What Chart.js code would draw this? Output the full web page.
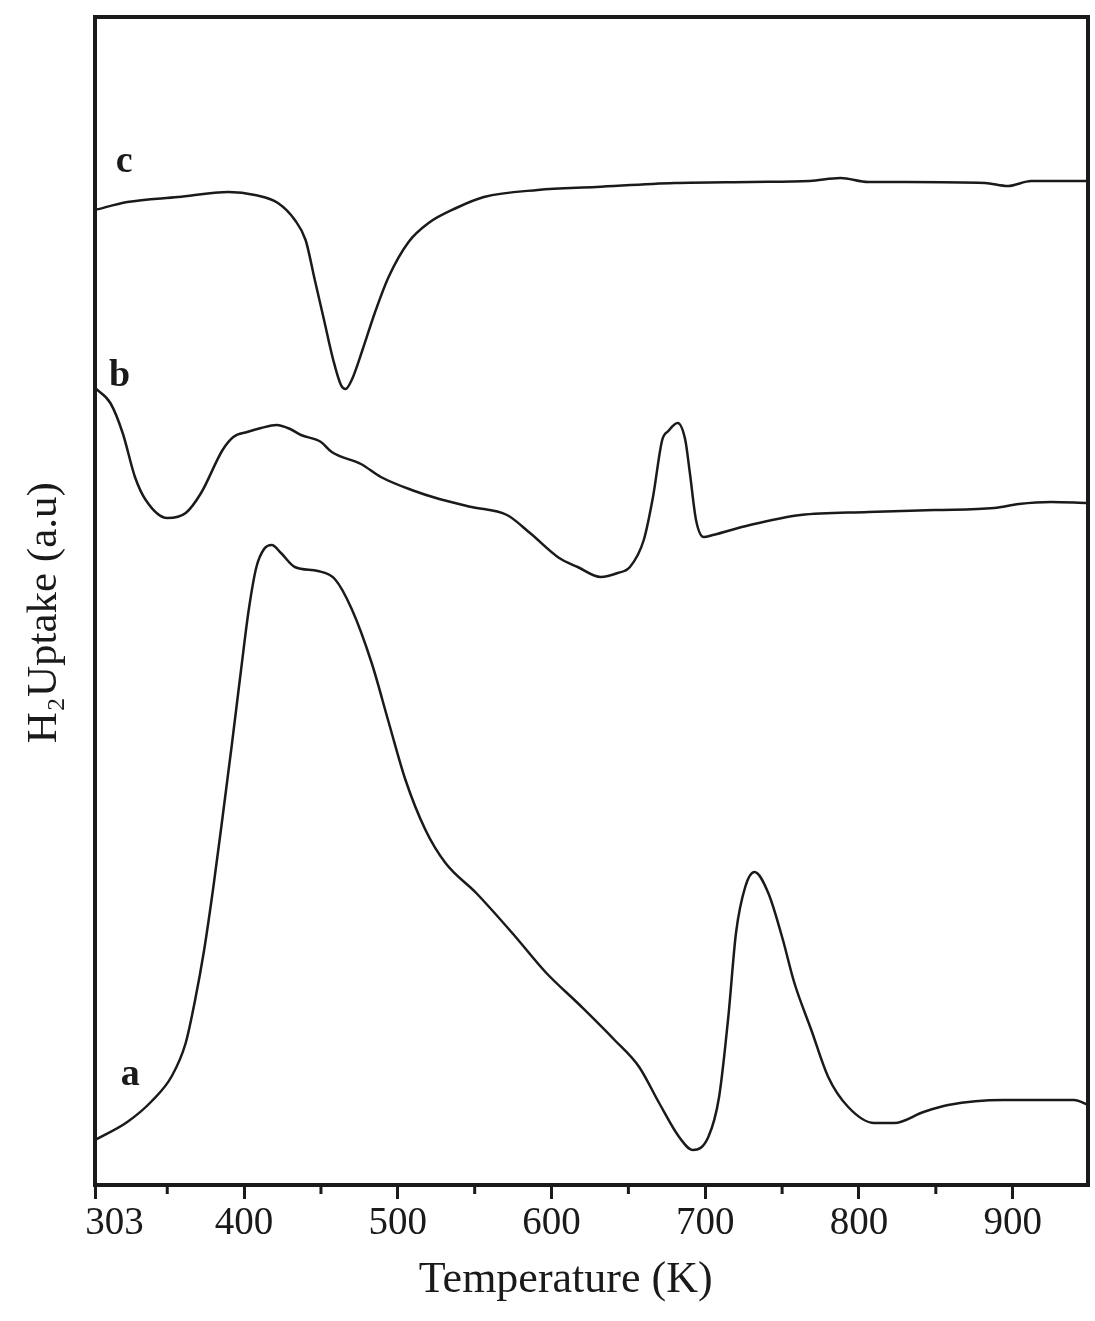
<!DOCTYPE html>
<html>
<head>
<meta charset="utf-8">
<script src="https://cdn.jsdelivr.net/npm/chart.js@4.4.1/dist/chart.umd.min.js"></script>
<style>
  body { margin: 0; background: #fff; }
</style>
</head>
<body>
<canvas id="tprChart" width="1095" height="1321"></canvas>
<script>
// TPR profiles, temperature (K) vs H2 uptake (a.u.)
var tempA = [303, 324, 340, 353, 362, 368, 374, 380, 386, 392, 398, 403, 408, 413, 418, 424, 433, 448, 459, 470, 483, 494, 505, 518, 531, 551, 575, 596, 619, 641, 657, 670, 683, 692, 702, 709, 715, 720, 726, 732, 741, 750, 758, 769, 780, 793, 810, 823, 842, 858, 894, 940, 949];
var uptakeA = [45, 63, 84, 109, 142, 184, 235, 298, 368, 440, 515, 575, 618, 636, 640, 632, 618, 614, 606, 576, 522, 463, 405, 355, 322, 292, 251, 213, 179, 145, 118, 82, 48, 35, 48, 88, 168, 252, 298, 313, 292, 248, 202, 155, 108, 78, 62, 62, 73, 80, 85, 85, 80];

var tempB = [303, 313, 321, 329, 336, 350, 362, 372, 386, 393, 402, 411, 421, 430, 437, 450, 457, 476, 489, 509, 527, 548, 571, 586, 605, 617, 632, 643, 651, 660, 666, 672, 676, 682, 687, 690, 694, 699, 705, 729, 762, 806, 849, 888, 904, 925, 948];
var uptakeB = [797, 782, 752, 708, 685, 667, 672, 692, 735, 748, 753, 757, 760, 756, 750, 743, 733, 721, 708, 695, 686, 678, 670, 652, 627, 618, 608, 612, 618, 645, 688, 745, 754, 762, 745, 712, 665, 648, 650, 660, 670, 673, 675, 677, 681, 683, 682];

var tempC = [303, 324, 357, 390, 407, 422, 433, 440, 446, 452, 458, 463, 466, 470, 477, 485, 494, 507, 520, 538, 556, 591, 629, 680, 730, 768, 788, 806, 831, 882, 897, 912, 948];
var uptakeC = [975, 983, 988, 993, 990, 982, 965, 945, 905, 865, 825, 800, 796, 805, 835, 872, 908, 943, 962, 977, 988, 995, 998, 1002, 1003, 1004, 1007, 1003, 1003, 1002, 999, 1004, 1004];

var majorTicks = [303, 400, 500, 600, 700, 800, 900];
var minorTicks = [350, 450, 550, 650, 750, 850];

var curveNames = ["a", "b", "c"];
var nameTemps = [326, 319, 322];
var nameUptakes = [110, 809, 1023];

var xTitle = "Temperature (K)";
var yTitle = "H\u2082Uptake (a.u)";

function points(xs, ys) {
  return xs.map(function (x, i) { return { x: x, y: ys[i] }; });
}

var serif = "'Liberation Serif', 'Times New Roman', serif";
var ink = "#1a1a1a";

function curve(xs, ys) {
  return {
    data: points(xs, ys),
    borderColor: ink,
    borderWidth: 2.5,
    pointRadius: 0,
    fill: false,
    cubicInterpolationMode: "monotone"
  };
}

// box around the plot, minor ticks, axis titles and the a/b/c labels
var decorations = {
  id: "decorations",
  afterDraw: function (chart) {
    var ctx = chart.ctx;
    var area = chart.chartArea;
    var xs = chart.scales.x;
    var ys = chart.scales.y;
    ctx.save();
    ctx.strokeStyle = ink;
    ctx.lineWidth = 4;
    ctx.strokeRect(area.left, area.top, area.right - area.left, area.bottom - area.top);

    ctx.lineWidth = 3;
    minorTicks.forEach(function (v) {
      var px = xs.getPixelForValue(v);
      ctx.beginPath();
      ctx.moveTo(px, area.bottom);
      ctx.lineTo(px, area.bottom + 9);
      ctx.stroke();
    });

    ctx.fillStyle = ink;
    ctx.textAlign = "center";
    ctx.textBaseline = "middle";

    ctx.font = "bold 38px " + serif;
    curveNames.forEach(function (name, i) {
      ctx.fillText(name, xs.getPixelForValue(nameTemps[i]), ys.getPixelForValue(nameUptakes[i]));
    });

    ctx.font = "44px " + serif;
    ctx.fillText(xTitle, area.left + (area.right - area.left) * 0.474, xs.bottom - 41);

    ctx.font = "43px " + serif;
    ctx.translate(ys.left + 45, area.top + (area.bottom - area.top) * 0.51);
    ctx.rotate(-Math.PI / 2);
    ctx.fillText(yTitle, 0, 0);
    ctx.restore();
  }
};

new Chart("tprChart", {
  type: "line",
  data: {
    datasets: [curve(tempA, uptakeA), curve(tempB, uptakeB), curve(tempC, uptakeC)]
  },
  options: {
    responsive: false,
    animation: false,
    layout: { padding: { top: 17, right: 7, left: 0, bottom: 0 } },
    plugins: {
      legend: { display: false },
      tooltip: { enabled: false }
    },
    scales: {
      x: {
        type: "linear",
        min: 303,
        max: 949,
        afterBuildTicks: function (scale) {
          scale.ticks = majorTicks.map(function (v) { return { value: v }; });
        },
        afterFit: function (scale) { scale.height = 136; },
        ticks: {
          color: ink,
          padding: 1,
          maxRotation: 0,
          autoSkip: false,
          font: { family: serif, size: 39 },
          // first label sits just right of the corner
          callback: function (v) { return v === 303 ? "\u2003303" : String(v); }
        },
        grid: {
          drawOnChartArea: false,
          tickLength: 14,
          tickWidth: 3,
          tickColor: ink
        },
        border: { display: false }
      },
      y: {
        type: "linear",
        min: 0,
        max: 1168,
        afterFit: function (scale) { scale.width = 95; },
        ticks: { display: false },
        grid: { display: false },
        border: { display: false }
      }
    }
  },
  plugins: [decorations]
});
</script>
</body>
</html>
